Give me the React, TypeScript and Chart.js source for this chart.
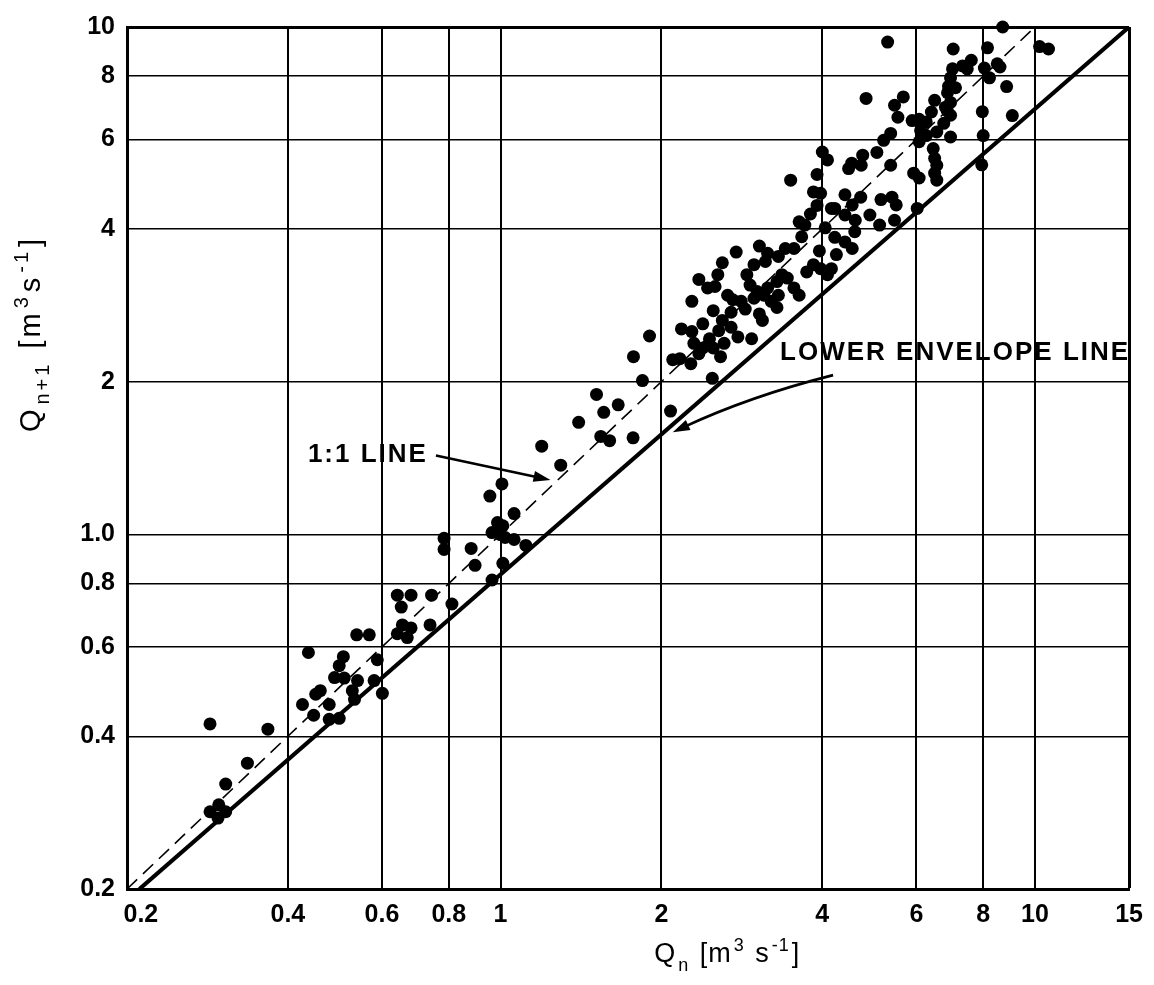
import { useEffect, useRef } from 'react';
import { Chart, registerables } from 'chart.js';

Chart.register(...registerables);

// ---------- axis ticks ----------
const X_TICKS = [0.2, 0.4, 0.6, 0.8, 1, 2, 4, 6, 8, 10, 15];
const X_TICK_LABELS = ['0.2', '0.4', '0.6', '0.8', '1', '2', '4', '6', '8', '10', '15'];
const Y_TICKS = [0.2, 0.4, 0.6, 0.8, 1, 2, 4, 6, 8, 10];
const Y_TICK_LABELS = ['0.2', '0.4', '0.6', '0.8', '1.0', '2', '4', '6', '8', '10'];

// ---------- observed flows: Q_n (x) and Q_n+1 (y) ----------
const QN: number[] = [
  0.286, 0.367, 0.336, 0.306, 0.286, 0.297, 0.306, 0.296,
  0.437, 0.426, 0.447, 0.451, 0.46, 0.478, 0.478, 0.499, 0.489, 0.51,
  0.499, 0.508, 0.528, 0.533, 0.54, 0.538, 0.568, 0.588, 0.58, 0.601,
  0.652, 0.641, 0.655, 0.68, 0.669, 0.738, 0.811, 0.641, 0.68, 0.743,
  0.784, 0.784, 0.881, 0.896, 0.964, 1.01, 0.955, 1.006, 1.06, 0.987,
  1.01, 0.964, 1.0, 1.02, 1.06, 1.115,
  1.194, 1.296, 1.4, 1.512, 1.56, 1.66, 1.54, 1.6, 1.77, 1.9, 1.773, 1.843, 2.08, 2.49,
  2.5, 2.7, 2.87, 3.05, 3.29, 2.6, 2.18, 2.28, 2.39, 2.46, 2.56, 2.7,
  2.78, 2.95, 3.09, 2.1, 2.165, 2.27, 2.35, 2.39, 2.5, 2.58, 2.3, 2.62,
  2.76, 2.6, 2.98, 3.16, 3.13, 3.31, 3.41, 3.54, 3.62, 3.71, 3.91, 4.16,
  4.22, 4.25, 4.16, 4.09, 4.41, 4.55, 2.89, 2.93, 3.02, 3.16, 3.29, 3.36,
  3.44, 3.54, 3.62, 3.74, 3.85, 3.97, 2.44, 2.52, 2.66, 2.72, 2.82, 2.98,
  3.11, 3.21, 3.31, 2.28, 2.35, 4.6, 2.55, 3.05, 3.8, 4.05, 3.66, 3.95,
  3.49, 4.0, 4.09, 3.91, 3.85, 3.97, 4.41, 4.55, 4.72, 5.15, 5.4, 5.5,
  4.22, 4.41, 4.61, 4.91, 5.12, 5.46, 4.48, 4.54, 4.73, 4.76, 5.06, 5.21,
  5.37, 5.37, 5.93, 6.07, 6.45, 6.49, 6.55, 6.49, 6.55, 6.02,
  4.83, 5.67, 5.46, 5.54, 6.49, 6.8, 6.95, 6.75, 6.55, 6.4, 6.26, 6.07,
  5.89, 6.11, 6.26, 6.95, 6.07, 6.89, 6.85, 7.97, 8.0, 7.95, 9.07,
  6.95, 7.1, 6.86, 6.95, 8.85, 8.22, 8.04, 7.01, 7.47, 7.32, 8.5, 7.6,
  8.6, 8.15, 7.03, 5.3, 8.7, 10.2, 10.6,
];
const QN1: number[] = [
  0.423, 0.413, 0.354, 0.322, 0.284, 0.293, 0.284, 0.276,
  0.585, 0.462, 0.44, 0.484, 0.492, 0.462, 0.432, 0.434, 0.522, 0.521,
  0.551, 0.574, 0.492, 0.473, 0.515, 0.634, 0.634, 0.566, 0.515, 0.486,
  0.719, 0.637, 0.663, 0.654, 0.626, 0.663, 0.729, 0.759, 0.759, 0.759,
  0.982, 0.934, 0.938, 0.869, 0.813, 0.877, 1.19, 1.257, 1.099, 1.055,
  1.04, 1.008, 0.999, 0.986, 0.977, 0.951,
  1.492, 1.369, 1.663, 1.887, 1.74, 1.8, 1.56, 1.53, 1.55, 2.46, 2.24, 2.01, 1.75, 2.03,
  2.76, 2.74, 2.78, 2.72, 2.8, 2.64, 2.54, 2.51, 2.6, 2.43, 2.52, 2.56,
  2.45, 2.43, 2.64, 2.21, 2.22, 2.17, 2.27, 2.33, 2.33, 2.24, 2.38, 2.38,
  3.6, 3.43, 3.4, 3.58, 3.45, 3.53, 3.66, 3.66, 4.13, 4.07, 4.45, 4.39,
  3.85, 3.56, 3.34, 3.25, 3.77, 3.66, 3.25, 3.1, 3.01, 3.06, 3.15, 3.25,
  3.2, 3.06, 2.96, 3.29, 3.4, 3.34, 3.06, 3.08, 2.96, 2.9, 2.88, 2.92,
  2.96, 2.88, 2.96, 2.88, 3.18, 3.95, 3.25, 3.7, 4.28, 4.02, 3.86, 3.62,
  4.99, 5.67, 5.47, 5.12, 4.73, 4.7, 4.67, 4.46, 4.62, 4.57, 4.62, 4.46,
  4.39, 4.26, 4.16, 4.26, 4.07, 4.16, 5.26, 5.39, 5.34, 5.59, 5.66, 5.98,
  6.17, 5.34, 5.15, 5.04, 5.76, 5.51, 5.34, 5.15, 4.99, 4.39,
  7.23, 7.28, 7.01, 6.64, 7.17, 6.95, 6.7, 6.46, 6.21, 6.8, 6.5, 6.58,
  6.54, 6.25, 6.11, 6.07, 5.94, 7.64, 6.84, 6.81, 6.11, 5.35, 6.69,
  7.94, 7.59, 7.42, 7.1, 7.63, 7.94, 8.3, 8.27, 8.27, 8.38, 8.46, 8.6,
  8.34, 9.1, 9.05, 9.34, 10.0, 9.15, 9.05,
];

// ---------- reference lines ----------
const ONE_TO_ONE_X = [0.2, 10];
const ONE_TO_ONE_Y = [0.2, 10];
const ENVELOPE_X = [0.211, 15];
const ENVELOPE_Y = [0.2, 10];

// ---------- annotations (anchored in data space) ----------
const LABEL_ONE_TO_ONE = '1:1 LINE';
const LABEL_ENVELOPE = 'LOWER ENVELOPE LINE';
const ARROW_ONE_FROM = [0.757, 1.43];
const ARROW_ONE_TO = [1.24, 1.28];
const ARROW_ENV_FROM = [4.19, 2.06];
const ARROW_ENV_TO = [2.1, 1.59];

const FONT_FAMILY = '"Liberation Sans", Arial, Helvetica, sans-serif';

type Seg = { t: string; k: 'n' | 'sub' | 'sup' };
const X_TITLE: Seg[] = [
  { t: 'Q', k: 'n' }, { t: 'n', k: 'sub' }, { t: ' [m', k: 'n' }, { t: '3', k: 'sup' },
  { t: ' s', k: 'n' }, { t: '-1', k: 'sup' }, { t: ']', k: 'n' },
];
const Y_TITLE: Seg[] = [
  { t: 'Q', k: 'n' }, { t: 'n+1', k: 'sub' }, { t: ' [m', k: 'n' }, { t: '3', k: 'sup' },
  { t: 's', k: 'n' }, { t: '-1', k: 'sup' }, { t: ']', k: 'n' },
];

function segFont(k: string, size: number) {
  const s = k === 'n' ? size : Math.round(size * 0.68);
  return `normal ${s}px ${FONT_FAMILY}`;
}

function drawRich(ctx: CanvasRenderingContext2D, segs: Seg[], size: number, cx: number, by: number) {
  ctx.textAlign = 'left';
  ctx.textBaseline = 'alphabetic';
  let total = 0;
  const widths = segs.map((s) => {
    ctx.font = segFont(s.k, size);
    const w = ctx.measureText(s.t).width + 2;
    total += w;
    return w;
  });
  let x = cx - total / 2;
  segs.forEach((s, i) => {
    ctx.font = segFont(s.k, size);
    const dy = s.k === 'sub' ? size * 0.32 : s.k === 'sup' ? -size * 0.42 : 0;
    ctx.fillText(s.t, x, by + dy);
    x += widths[i];
  });
}

function arrowHead(ctx: CanvasRenderingContext2D, tx: number, ty: number, ang: number, len: number, half: number) {
  ctx.beginPath();
  ctx.moveTo(tx, ty);
  ctx.lineTo(tx - len * Math.cos(ang) + half * Math.sin(ang), ty - len * Math.sin(ang) - half * Math.cos(ang));
  ctx.lineTo(tx - len * Math.cos(ang) - half * Math.sin(ang), ty - len * Math.sin(ang) + half * Math.cos(ang));
  ctx.closePath();
  ctx.fill();
}

const annotationPlugin = {
  id: 'annotations',
  afterDraw(chart: any) {
    const { ctx, chartArea } = chart;
    const xs = chart.scales.x;
    const ys = chart.scales.y;
    const px = (v: number) => xs.getPixelForValue(v);
    const py = (v: number) => ys.getPixelForValue(v);
    ctx.save();
    ctx.fillStyle = '#000';
    ctx.strokeStyle = '#000';

    // 1:1 arrow + label
    const a1x = px(ARROW_ONE_FROM[0]), a1y = py(ARROW_ONE_FROM[1]);
    const b1x = px(ARROW_ONE_TO[0]), b1y = py(ARROW_ONE_TO[1]);
    const ang1 = Math.atan2(b1y - a1y, b1x - a1x);
    ctx.lineWidth = 2.6;
    ctx.beginPath();
    ctx.moveTo(a1x, a1y);
    ctx.lineTo(b1x - 12 * Math.cos(ang1), b1y - 12 * Math.sin(ang1));
    ctx.stroke();
    arrowHead(ctx, b1x, b1y, ang1, 17, 5.5);
    ctx.font = `bold 26px ${FONT_FAMILY}`;
    (ctx as any).letterSpacing = '2px';
    ctx.textAlign = 'right';
    ctx.textBaseline = 'middle';
    ctx.fillText(LABEL_ONE_TO_ONE, a1x - 8, a1y - 1);

    // envelope arrow (gently curved) + label
    const a2x = px(ARROW_ENV_FROM[0]), a2y = py(ARROW_ENV_FROM[1]);
    const b2x = px(ARROW_ENV_TO[0]), b2y = py(ARROW_ENV_TO[1]);
    const mx = (a2x + b2x) / 2, my = (a2y + b2y) / 2;
    const dx = b2x - a2x, dy = b2y - a2y;
    const dl = Math.hypot(dx, dy);
    const cxp = mx - (dy / dl) * 8, cyp = my + (dx / dl) * 8;
    const ang2 = Math.atan2(b2y - cyp, b2x - cxp);
    ctx.lineWidth = 2.6;
    ctx.beginPath();
    ctx.moveTo(a2x, a2y);
    ctx.quadraticCurveTo(cxp, cyp, b2x - 12 * Math.cos(ang2), b2y - 12 * Math.sin(ang2));
    ctx.stroke();
    arrowHead(ctx, b2x, b2y, ang2, 17, 5.5);
    ctx.textAlign = 'left';
    ctx.fillText(LABEL_ENVELOPE, a2x - 53, a2y - 22);

    // axis titles
    (ctx as any).letterSpacing = '1px';
    drawRich(ctx, X_TITLE, 27, chartArea.left + (chartArea.right - chartArea.left) * 0.6, chartArea.bottom + 73);
    ctx.save();
    (ctx as any).letterSpacing = '3px';
    ctx.translate(chartArea.left - 87, chartArea.top + (chartArea.bottom - chartArea.top) * 0.355);
    ctx.rotate(-Math.PI / 2);
    drawRich(ctx, Y_TITLE, 29, 0, 0);
    ctx.restore();
    (ctx as any).letterSpacing = '0px';
    ctx.restore();
  },
};

export default function App() {
  const ref = useRef<HTMLCanvasElement>(null);

  useEffect(() => {
    const canvas = ref.current;
    if (!canvas) return;
    const points = QN.map((x, i) => ({ x, y: QN1[i] }));
    const oneToOne = ONE_TO_ONE_X.map((x, i) => ({ x, y: ONE_TO_ONE_Y[i] }));
    const envelope = ENVELOPE_X.map((x, i) => ({ x, y: ENVELOPE_Y[i] }));
    const tickFont = { family: FONT_FAMILY, size: 25, weight: 'bold' as const };

    const chart = new Chart(canvas, {
      type: 'scatter',
      data: {
        datasets: [
          {
            label: 'Q',
            data: points,
            backgroundColor: '#000',
            borderWidth: 0,
            pointRadius: 6.5,
            pointStyle: 'circle',
            clip: false as any,
            order: 3,
          },
          {
            label: '1:1 line',
            data: oneToOne,
            showLine: true,
            borderColor: '#000',
            borderWidth: 1.6,
            borderDash: [14, 8],
            pointRadius: 0,
            order: 2,
          },
          {
            label: 'lower envelope line',
            data: envelope,
            showLine: true,
            borderColor: '#000',
            borderWidth: 4.2,
            pointRadius: 0,
            order: 1,
          },
        ],
      },
      options: {
        responsive: false,
        devicePixelRatio: 1,
        animation: false,
        events: [],
        layout: { padding: { left: 0, right: 22, top: 21, bottom: 0 } },
        plugins: { legend: { display: false }, tooltip: { enabled: false } },
        scales: {
          x: {
            type: 'logarithmic',
            min: 0.2,
            max: 15,
            afterBuildTicks: (scale: any) => {
              scale.ticks = X_TICKS.map((v) => ({ value: v }));
            },
            afterFit: (scale: any) => {
              scale.height = 96;
            },
            ticks: {
              autoSkip: false,
              maxRotation: 0,
              minRotation: 0,
              padding: 11,
              color: '#000',
              font: tickFont,
              callback: (_v: any, i: number) => (i === 0 ? '    ' + X_TICK_LABELS[i] : X_TICK_LABELS[i]),
            },
            grid: {
              color: '#000',
              drawTicks: false,
              lineWidth: (c: any) => (c.tick && c.tick.value === 15 ? 3 : 2),
            },
            border: { display: true, color: '#000', width: 3 },
          },
          y: {
            type: 'logarithmic',
            min: 0.2,
            max: 10,
            afterBuildTicks: (scale: any) => {
              scale.ticks = Y_TICKS.map((v) => ({ value: v }));
            },
            afterFit: (scale: any) => {
              scale.width = 127;
            },
            ticks: {
              autoSkip: false,
              padding: 12,
              color: '#000',
              font: tickFont,
              callback: (_v: any, i: number) => Y_TICK_LABELS[i],
            },
            grid: {
              color: '#000',
              drawTicks: false,
              lineWidth: (c: any) => (c.tick && c.tick.value === 10 ? 3 : 1.5),
            },
            border: { display: true, color: '#000', width: 3 },
          },
        },
      } as any,
      plugins: [annotationPlugin],
    });
    return () => chart.destroy();
  }, []);

  return (
    <div style={{ position: 'absolute', left: 0, top: 0, width: 1154, height: 985, background: '#fff' }}>
      <canvas ref={ref} width={1154} height={985} style={{ display: 'block', width: 1154, height: 985 }} />
    </div>
  );
}
